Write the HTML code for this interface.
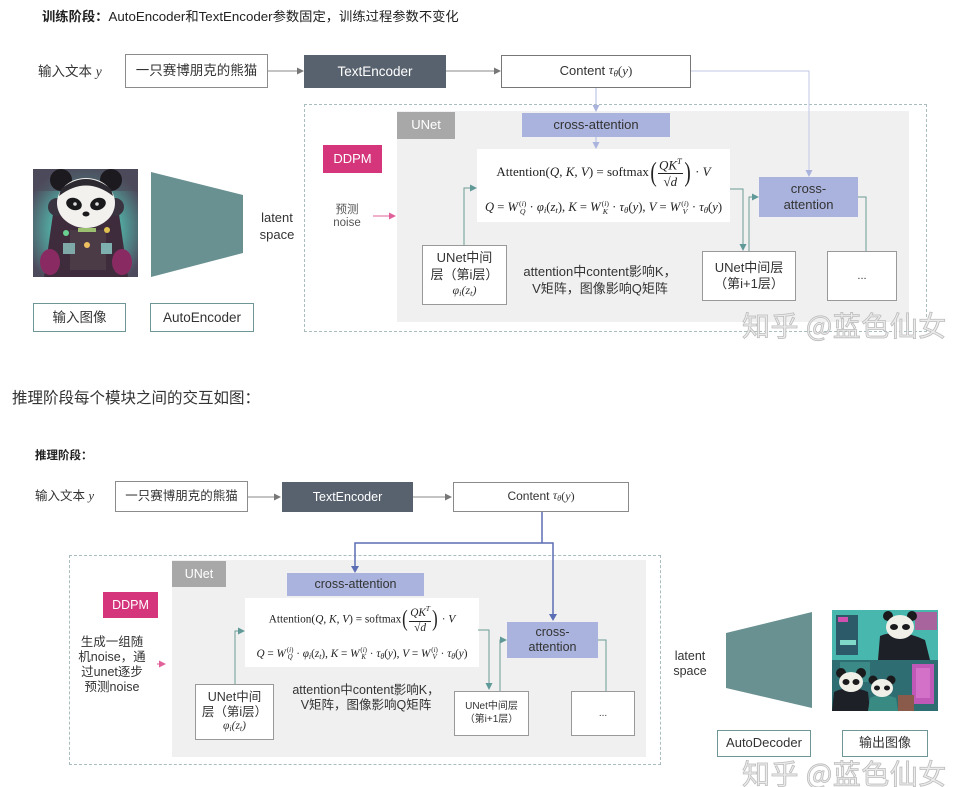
<!DOCTYPE html>
<html><head><meta charset="utf-8">
<style>
*{margin:0;padding:0}
html,body{width:965px;height:787px;background:#fff;overflow:hidden;position:relative;font-family:"Liberation Sans","Noto Sans CJK SC",sans-serif;color:#333}
.a{position:absolute}
.box{position:absolute;box-sizing:border-box;display:flex;align-items:center;justify-content:center;text-align:center;line-height:1.3}
.bd{border:1px solid #8c8c8c;background:#fff}
.tl{border:1px solid #6f9696;background:#fff}
.ca{background:#aab3dd;color:#333}
.t{position:absolute;white-space:nowrap;line-height:1}
.math{font-family:"Liberation Serif","DejaVu Serif",serif;color:#222;white-space:nowrap;position:absolute;text-align:center;line-height:1}
.frac{display:inline-flex;flex-direction:column;vertical-align:middle;text-align:center;line-height:1.05}
.frac .n{border-bottom:1px solid #222;padding:0 1px 1px}
.frac .d{padding-top:1px}
.par{display:inline-block;font-size:2.1em;vertical-align:middle;line-height:1;transform:scaleX(0.7);font-weight:300}
.ss{display:inline-flex;flex-direction:column;vertical-align:middle;font-size:0.62em;line-height:1.05;margin-left:1px}
.sm{font-size:0.7em;vertical-align:-0.25em}
.wm{position:absolute;font-family:"Noto Sans CJK SC","WenQuanYi Zen Hei",sans-serif;font-size:28px;color:#ebebeb;-webkit-text-stroke:0.8px #bcbcbc;white-space:nowrap;line-height:1;letter-spacing:0.5px}
</style></head><body>

<!-- background layers -->
<div class="a" style="left:304px;top:104px;width:623px;height:228px;box-sizing:border-box;border:1px dashed #a9bdbd"></div>
<div class="a" style="left:397px;top:111px;width:512px;height:211px;background:#f0f0f0"></div>
<div class="a" style="left:69px;top:555px;width:592px;height:210px;box-sizing:border-box;border:1px dashed #a9bdbd"></div>
<div class="a" style="left:172px;top:560px;width:474px;height:197px;background:#f0f0f0"></div>
<div class="a" style="left:477px;top:149px;width:253px;height:73px;background:#fff"></div>
<div class="a" style="left:245px;top:598px;width:234px;height:69px;background:#fff"></div>

<svg class="a" style="left:0;top:0" width="965" height="787" viewBox="0 0 965 787">
<defs>
<radialGradient id="g1" cx="0.5" cy="0.55" r="0.6">
<stop offset="0" stop-color="#6ad8c4"/><stop offset="0.55" stop-color="#52a8a0"/><stop offset="1" stop-color="#4d4a5c"/>
</radialGradient>
</defs>
<!-- top panda image -->
<rect x="33" y="169" width="105" height="108" fill="url(#g1)"/>
<rect x="33" y="169" width="105" height="22" fill="#4d4a5a" opacity="0.6"/>
<path d="M53 214 L119 214 L128 277 L44 277 Z" fill="#3e2c3c"/>
<ellipse cx="50" cy="262" rx="10" ry="13" fill="#8a2a62"/>
<ellipse cx="122" cy="262" rx="10" ry="13" fill="#8a2a62"/>
<rect x="70" y="230" width="36" height="40" fill="#4a3b46"/>
<rect x="63" y="243" width="12" height="11" fill="#7fa8a8"/>
<rect x="101" y="243" width="11" height="11" fill="#7fb0b0"/>
<circle cx="87" cy="245" r="3" fill="#f0c060"/>
<rect x="78" y="228" width="18" height="4" fill="#9ac070"/>
<circle cx="66" cy="233" r="3" fill="#6ad090"/>
<circle cx="107" cy="230" r="3" fill="#e0c050"/>
<circle cx="61" cy="180" r="11" fill="#1c1a1e"/>
<circle cx="111" cy="180" r="11" fill="#1c1a1e"/>
<circle cx="57" cy="207" r="9" fill="#3a3440"/>
<circle cx="115" cy="207" r="9" fill="#3a3440"/>
<ellipse cx="86" cy="203" rx="29" ry="25" fill="#f2f1ee"/>
<path d="M59 196 Q86 175 113 196 L111 189 Q86 169 61 189 Z" fill="#2c2a30"/>
<ellipse cx="74" cy="204" rx="8" ry="6" fill="#1a1a1c" transform="rotate(20 74 204)"/>
<ellipse cx="98" cy="204" rx="8" ry="6" fill="#1a1a1c" transform="rotate(-20 98 204)"/>
<circle cx="75" cy="204" r="1.8" fill="#ddd"/>
<circle cx="97" cy="204" r="1.8" fill="#ddd"/>
<ellipse cx="86" cy="214" rx="3.5" ry="2.5" fill="#1a1a1c"/>

<!-- top trapezoid -->
<polygon points="151,172 243,195 243,253 151,277" fill="#6a9191"/>

<!-- bottom image -->
<rect x="832" y="610" width="106" height="101" fill="#3aa8a0"/>
<rect x="832" y="610" width="106" height="50" fill="#48b8ae"/>
<rect x="836" y="615" width="22" height="40" fill="#2d5a68"/>
<rect x="838" y="617" width="10" height="5" fill="#d050b0"/>
<rect x="840" y="640" width="16" height="5" fill="#80d8c8"/>
<rect x="915" y="612" width="22" height="18" fill="#c05098" opacity="0.8"/>
<path d="M880 636 Q900 628 925 640 L930 660 L878 660 Z" fill="#1e2028"/>
<circle cx="888" cy="616" r="5" fill="#1a1a1c"/>
<circle cx="912" cy="616" r="5" fill="#1a1a1c"/>
<ellipse cx="900" cy="627" rx="14" ry="12" fill="#f0efe8"/>
<ellipse cx="894" cy="627" rx="4" ry="3" fill="#1a1a1c"/>
<ellipse cx="906" cy="627" rx="4" ry="3" fill="#1a1a1c"/>
<rect x="832" y="660" width="106" height="51" fill="#2e6e72"/>
<rect x="840" y="662" width="30" height="20" fill="#3c8a88"/>
<rect x="912" y="664" width="22" height="40" fill="#c058b8"/>
<rect x="916" y="668" width="14" height="30" fill="#e080d0" opacity="0.6"/>
<path d="M834 692 Q850 684 868 692 L870 711 L832 711 Z" fill="#1e2028"/>
<circle cx="841" cy="673" r="5" fill="#1a1a1c"/>
<circle cx="861" cy="673" r="5" fill="#1a1a1c"/>
<ellipse cx="851" cy="682" rx="12" ry="10" fill="#f0efe8"/>
<ellipse cx="846" cy="682" rx="3.5" ry="3" fill="#1a1a1c"/>
<ellipse cx="856" cy="682" rx="3.5" ry="3" fill="#1a1a1c"/>
<path d="M870 698 Q882 692 896 698 L898 711 L868 711 Z" fill="#3a8a84"/>
<circle cx="873" cy="680" r="4.5" fill="#1a1a1c"/>
<circle cx="891" cy="680" r="4.5" fill="#1a1a1c"/>
<ellipse cx="882" cy="688" rx="11" ry="9" fill="#f0efe8"/>
<ellipse cx="877" cy="688" rx="3" ry="2.5" fill="#1a1a1c"/>
<ellipse cx="887" cy="688" rx="3" ry="2.5" fill="#1a1a1c"/>
<rect x="898" y="695" width="16" height="16" fill="#8a5a4a"/>

<!-- bottom trapezoid -->
<polygon points="726,633 812,612 812,708 726,688" fill="#6a9191"/>

<!-- TOP connectors -->
<g fill="none" stroke-width="1">
<line x1="268" y1="71" x2="298" y2="71" stroke="#888"/>
<line x1="446" y1="71" x2="495" y2="71" stroke="#888"/>
<line x1="596" y1="88" x2="596" y2="106" stroke="#b2badf"/>
<line x1="596" y1="137" x2="596" y2="143" stroke="#b2badf"/>
<polyline points="691,71 809,71 809,171" stroke="#c2c8e6"/>
<polyline points="464,245 464,188 471,188" stroke="#6c9c94"/>
<polyline points="730,189 743,189 743,245" stroke="#6c9c94"/>
<polyline points="749,251 749,197 753,197" stroke="#6c9c94"/>
<polyline points="858,197 866,197 866,251" stroke="#6c9c94"/>
<line x1="373" y1="216" x2="390" y2="216" stroke="#e0609a"/>
</g>
<g>
<polygon points="297,67.5 304,71 297,74.5" fill="#777"/>
<polygon points="494,67.5 501,71 494,74.5" fill="#777"/>
<polygon points="592.5,105 596,112 599.5,105" fill="#a9b3dc"/>
<polygon points="592.5,142 596,149 599.5,142" fill="#a9b3dc"/>
<polygon points="805.5,170 809,177 812.5,170" fill="#a9b3dc"/>
<polygon points="470,184.5 477,188 470,191.5" fill="#5f9a98"/>
<polygon points="739.5,244 743,251 746.5,244" fill="#5f9a98"/>
<polygon points="752,193.5 759,197 752,200.5" fill="#5f9a98"/>
<polygon points="389,212.5 396,216 389,219.5" fill="#e0609a"/>
</g>

<!-- BOTTOM connectors -->
<g fill="none" stroke-width="1">
<line x1="248" y1="497" x2="275" y2="497" stroke="#888"/>
<line x1="413" y1="497" x2="446" y2="497" stroke="#888"/>
<polyline points="542,512 542,543" stroke="#5b6db4" stroke-width="1.5"/>
<polyline points="355,567 355,543 553,543 553,614" stroke="#5b6db4" stroke-width="1.5"/>
<polyline points="235,684 235,631 239,631" stroke="#6c9c94"/>
<polyline points="478,630 489,630 489,684" stroke="#6c9c94"/>
<polyline points="500,691 500,640 501,640" stroke="#6c9c94"/>
<polyline points="598,640 606,640 606,691" stroke="#6c9c94"/>
<line x1="157" y1="664" x2="160" y2="664" stroke="#e0609a"/>
</g>
<g>
<polygon points="274,493.5 281,497 274,500.5" fill="#777"/>
<polygon points="445,493.5 452,497 445,500.5" fill="#777"/>
<polygon points="351,566 355,573 359,566" fill="#5b6db4"/>
<polygon points="549,614 553,621 557,614" fill="#5b6db4"/>
<polygon points="238,627.5 245,631 238,634.5" fill="#5f9a98"/>
<polygon points="485.5,683 489,690 492.5,683" fill="#5f9a98"/>
<polygon points="500,636.5 507,640 500,643.5" fill="#5f9a98"/>
<polygon points="159,660.5 166,664 159,667.5" fill="#e0609a"/>
</g>
</svg>

<!-- TOP texts & boxes -->
<div class="t" style="left:42px;top:10px;font-size:13.3px;color:#222"><b>训练阶段：</b>AutoEncoder和TextEncoder参数固定，训练过程参数不变化</div>
<div class="t" style="left:38px;top:65px;font-size:13.5px;color:#333">输入文本 <span style="font-family:'Liberation Serif',serif;font-style:italic">y</span></div>
<div class="box bd" style="left:125px;top:54px;width:143px;height:34px;font-size:13.5px">一只赛博朋克的熊猫</div>
<div class="box" style="left:304px;top:55px;width:142px;height:33px;background:#58626e;color:#fff;font-size:13.5px">TextEncoder</div>
<div class="box bd" style="left:501px;top:55px;width:190px;height:33px;font-size:13px;border-color:#777">Content&nbsp;<span style="font-family:'Liberation Serif',serif;font-style:italic">τ<span class="sm">θ</span></span><span style="font-family:'Liberation Serif',serif">(<i>y</i>)</span></div>

<div class="box" style="left:397px;top:112px;width:58px;height:27px;background:#a8a8a8;color:#fff;font-size:13px">UNet</div>
<div class="box" style="left:323px;top:145px;width:59px;height:28px;background:#d4357b;color:#fff;font-size:13px">DDPM</div>
<div class="box" style="left:320px;top:202px;width:54px;height:30px;font-size:11.5px;color:#555;line-height:1.15;flex-direction:column">预测<br>noise</div>
<div class="box ca" style="left:522px;top:113px;width:148px;height:24px;font-size:13px">cross-attention</div>

<div class="math" style="left:477px;top:157px;width:253px;font-size:13px">Attention(<i>Q</i>, <i>K</i>, <i>V</i>) = softmax<span class="par">(</span><span class="frac"><span class="n"><i>QK</i><sup style="font-size:0.65em"><i>T</i></sup></span><span class="d">√<span style="border-top:1px solid #222"><i>d</i></span></span></span><span class="par">)</span> · <i>V</i></div>
<div class="math" style="left:477px;top:200px;width:253px;font-size:12.6px"><i>Q</i> = <i>W</i><span class="ss"><span>(<i>i</i>)</span><span><i>Q</i></span></span> · <i>φ<span class="sm">i</span></i>(<i>z<span class="sm">t</span></i>), <i>K</i> = <i>W</i><span class="ss"><span>(<i>i</i>)</span><span><i>K</i></span></span> · <i>τ<span class="sm">θ</span></i>(<i>y</i>), <i>V</i> = <i>W</i><span class="ss"><span>(<i>i</i>)</span><span><i>V</i></span></span> · <i>τ<span class="sm">θ</span></i>(<i>y</i>)</div>

<div class="box bd" style="left:422px;top:245px;width:85px;height:60px;font-size:13px;flex-direction:column;line-height:1.25;border-color:#999">UNet中间<br>层（第i层）<span style="font-family:'Liberation Serif',serif;font-style:italic;font-size:12px">φ<span class="sm">i</span>(z<span class="sm">t</span>)</span></div>
<div class="box" style="left:520px;top:262px;width:160px;height:38px;font-size:13px;line-height:1.3;flex-direction:column">attention中content影响K，<br>V矩阵，图像影响Q矩阵</div>
<div class="box bd" style="left:702px;top:251px;width:94px;height:50px;font-size:13px;line-height:1.25;border-color:#999">UNet中间层<br>（第i+1层）</div>
<div class="box ca" style="left:759px;top:177px;width:99px;height:40px;font-size:13px;line-height:1.25">cross-<br>attention</div>
<div class="box bd" style="left:827px;top:251px;width:70px;height:50px;font-size:11px;border-color:#999">...</div>

<div class="box" style="left:250px;top:210px;width:54px;height:34px;font-size:13px;line-height:1.3">latent<br>space</div>
<div class="box tl" style="left:33px;top:303px;width:93px;height:29px;font-size:13.5px">输入图像</div>
<div class="box tl" style="left:150px;top:303px;width:104px;height:29px;font-size:13.5px">AutoEncoder</div>
<div class="wm" style="left:742px;top:311px">知乎 @蓝色仙女</div>

<div class="t" style="left:12px;top:391px;font-size:15.5px;color:#333">推理阶段每个模块之间的交互如图：</div>

<!-- BOTTOM -->
<div class="t" style="left:35px;top:451px;font-size:11.5px;color:#222"><b>推理阶段：</b></div>
<div class="t" style="left:35px;top:490px;font-size:12.5px;color:#333">输入文本 <span style="font-family:'Liberation Serif',serif;font-style:italic">y</span></div>
<div class="box bd" style="left:115px;top:481px;width:133px;height:31px;font-size:12.5px">一只赛博朋克的熊猫</div>
<div class="box" style="left:282px;top:482px;width:131px;height:30px;background:#58626e;color:#fff;font-size:12.5px">TextEncoder</div>
<div class="box bd" style="left:453px;top:482px;width:176px;height:30px;font-size:12px;border-color:#8a8a8a">Content&nbsp;<span style="font-family:'Liberation Serif',serif;font-style:italic">τ<span class="sm">θ</span></span><span style="font-family:'Liberation Serif',serif">(<i>y</i>)</span></div>

<div class="box" style="left:172px;top:561px;width:54px;height:26px;background:#a8a8a8;color:#fff;font-size:12.5px">UNet</div>
<div class="box" style="left:103px;top:592px;width:55px;height:26px;background:#d4357b;color:#fff;font-size:12.5px">DDPM</div>
<div class="box" style="left:72px;top:634px;width:80px;height:62px;font-size:12.5px;line-height:1.2;color:#333">生成一组随<br>机noise，通<br>过unet逐步<br>预测noise</div>
<div class="box ca" style="left:287px;top:573px;width:137px;height:23px;font-size:12.5px">cross-attention</div>

<div class="math" style="left:245px;top:605px;width:234px;font-size:11.3px">Attention(<i>Q</i>, <i>K</i>, <i>V</i>) = softmax<span class="par">(</span><span class="frac"><span class="n"><i>QK</i><sup style="font-size:0.65em"><i>T</i></sup></span><span class="d">√<span style="border-top:1px solid #222"><i>d</i></span></span></span><span class="par">)</span> · <i>V</i></div>
<div class="math" style="left:245px;top:647px;width:234px;font-size:11.2px"><i>Q</i> = <i>W</i><span class="ss"><span>(<i>i</i>)</span><span><i>Q</i></span></span> · <i>φ<span class="sm">i</span></i>(<i>z<span class="sm">t</span></i>), <i>K</i> = <i>W</i><span class="ss"><span>(<i>i</i>)</span><span><i>K</i></span></span> · <i>τ<span class="sm">θ</span></i>(<i>y</i>), <i>V</i> = <i>W</i><span class="ss"><span>(<i>i</i>)</span><span><i>V</i></span></span> · <i>τ<span class="sm">θ</span></i>(<i>y</i>)</div>

<div class="box bd" style="left:195px;top:684px;width:79px;height:56px;font-size:12.5px;flex-direction:column;line-height:1.2;border-color:#999">UNet中间<br>层（第i层）<span style="font-family:'Liberation Serif',serif;font-style:italic;font-size:11.5px">φ<span class="sm">i</span>(z<span class="sm">t</span>)</span></div>
<div class="box" style="left:290px;top:681px;width:152px;height:34px;font-size:12.5px;line-height:1.2">attention中content影响K，<br>V矩阵，图像影响Q矩阵</div>
<div class="box bd" style="left:454px;top:691px;width:75px;height:45px;font-size:10px;line-height:1.25;border-color:#999">UNet中间层<br>（第i+1层）</div>
<div class="box ca" style="left:507px;top:622px;width:91px;height:36px;font-size:12.5px;line-height:1.2">cross-<br>attention</div>
<div class="box bd" style="left:571px;top:691px;width:64px;height:45px;font-size:10px;border-color:#999">...</div>

<div class="box" style="left:664px;top:648px;width:52px;height:32px;font-size:12.5px;line-height:1.2">latent<br>space</div>
<div class="box tl" style="left:717px;top:730px;width:94px;height:27px;font-size:13px">AutoDecoder</div>
<div class="box tl" style="left:842px;top:730px;width:86px;height:27px;font-size:13px">输出图像</div>
<div class="wm" style="left:742px;top:759px">知乎 @蓝色仙女</div>

</body></html>
